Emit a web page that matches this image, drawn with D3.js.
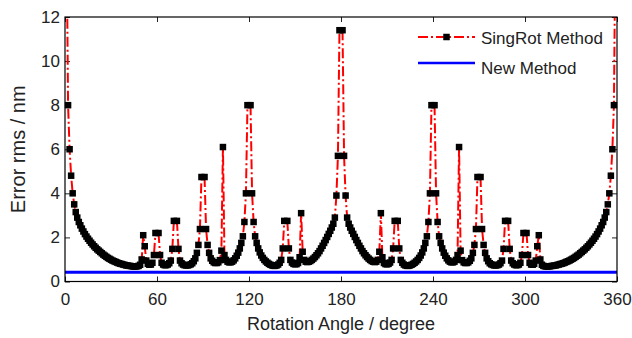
<!DOCTYPE html>
<html>
<head>
	<meta charset="utf-8">
	<title>SingRot vs New Method</title>
	<script src="https://d3js.org/d3.v7.min.js"></script>
	<style>
		body { margin: 0; background: #fff; }
		svg { display: block; }
		text { font-family: "Liberation Sans", Arial, sans-serif; fill: #222; }
		.tick text { font-size: 17px; }
		.tick line { stroke: #222; }
		text.label { font-size: 18px; }
		text.ylabel { font-size: 20px; }
		text.legend { font-size: 17px; }
	</style>
</head>
<body>
	<svg width="632" height="338"></svg>
<script>
	// sample angles, one per degree
	const angles = d3.range(0, 361, 1);

	// SingRot Method error (nm); null where the method is singular
	const singRot = [
		null, 16, 8.0, 6.0, 4.8, 4.0, 3.5, 3.15, 2.9, 2.7,
		2.55, 2.4, 2.27, 2.15, 2.04, 1.94, 1.85, 1.76, 1.68, 1.6,
		1.53, 1.46, 1.4, 1.34, 1.28, 1.22, 1.17, 1.12, 1.07, 1.03,
		0.99, 0.95, 0.92, 0.89, 0.86, 0.83, 0.81, 0.79, 0.77, 0.75,
		0.73, 0.72, 0.71, 0.7, 0.69, 0.68, 0.68, 0.69, 0.71, 0.76,
		1.0, 2.1, 1.6, 0.95, 0.8, 0.76, 0.77, 0.85, 1.2, 2.2,
		null, 2.2, 1.2, 0.85, 0.77, 0.74, 0.74, 0.77, 0.83, 0.95,
		1.48, 2.75, null, 2.75, 1.48, 0.95, 0.83, 0.77, 0.74, 0.73,
		0.73, 0.75, 0.78, 0.83, 0.92, 1.05, 1.3, 1.66, 2.38, 4.74,
		null, 4.74, 2.38, 1.66, 1.3, 1.05, 0.94, 0.87, 0.84, 0.84,
		0.87, 0.97, 1.4, 6.1, 1.2, 0.98, 0.9, 0.87, 0.87, 0.9,
		0.96, 1.05, 1.17, 1.31, 1.5, 1.75, 2.05, 2.7, 4.0, 8.0,
		null, 8.0, 4.0, 2.7, 2.05, 1.75, 1.5, 1.32, 1.18, 1.07,
		0.98, 0.91, 0.85, 0.8, 0.76, 0.73, 0.71, 0.71, 0.73, 0.77,
		0.85, 0.98, 1.5, 2.75, null, 2.75, 1.5, 0.98, 0.86, 0.8,
		0.78, 0.79, 0.84, 1.1, 3.1, 1.35, 0.98, 0.9, 0.88, 0.9,
		0.93, 0.98, 1.04, 1.11, 1.19, 1.28, 1.38, 1.5, 1.62, 1.75,
		1.88, 2.02, 2.16, 2.3, 2.45, 2.62, 2.9, 3.9, 5.7, 11.4,
		null,
		11.4, 5.7, 3.9, 2.9, 2.62, 2.45, 2.3, 2.16, 2.02, 1.88,
		1.75, 1.62, 1.5, 1.38, 1.28, 1.19, 1.11, 1.04, 0.98, 0.93,
		0.9, 0.88, 0.9, 0.98, 1.35, 3.1, 1.1, 0.84, 0.79, 0.78,
		0.8, 0.86, 0.98, 1.5, 2.75, null, 2.75, 1.5, 0.98, 0.85,
		0.77, 0.73, 0.71, 0.71, 0.73, 0.76, 0.8, 0.85, 0.91, 0.98,
		1.07, 1.18, 1.32, 1.5, 1.75, 2.05, 2.7, 4.0, 8.0, null,
		8.0, 4.0, 2.7, 2.05, 1.75, 1.5, 1.31, 1.17, 1.05, 0.96,
		0.9, 0.87, 0.87, 0.9, 0.98, 1.2, 6.1, 1.4, 0.97, 0.87,
		0.84, 0.84, 0.87, 0.94, 1.05, 1.3, 1.66, 2.38, 4.74, null,
		4.74, 2.38, 1.66, 1.3, 1.05, 0.92, 0.83, 0.78, 0.75, 0.73,
		0.73, 0.74, 0.77, 0.83, 0.95, 1.48, 2.75, null, 2.75, 1.48,
		0.95, 0.83, 0.77, 0.74, 0.74, 0.77, 0.85, 1.2, 2.2, null,
		2.2, 1.2, 0.85, 0.77, 0.76, 0.8, 0.95, 1.6, 2.1, 1.0,
		0.76, 0.71, 0.69, 0.68, 0.68, 0.69, 0.7, 0.71, 0.72, 0.73,
		0.75, 0.77, 0.79, 0.81, 0.83, 0.86, 0.89, 0.92, 0.95, 0.99,
		1.03, 1.07, 1.12, 1.17, 1.22, 1.28, 1.34, 1.4, 1.46, 1.53,
		1.6, 1.68, 1.76, 1.85, 1.94, 2.04, 2.15, 2.27, 2.4, 2.55,
		2.7, 2.9, 3.15, 3.5, 4.0, 4.8, 6.0, 8.0, 16, null
	];

	// New Method error (nm)
	const newAngles = [0, 360];
	const newMethod = [0.42, 0.42];

	const xTicks = [0, 60, 120, 180, 240, 300, 360];
	const yTicks = [0, 2, 4, 6, 8, 10, 12];

	const svg = d3.select('svg');
	const plotL = 65, plotR = 617, plotT = 17, plotB = 281.5;

	const xScale = d3.scaleLinear().domain([0, 360]).range([plotL, plotR]);
	const yScale = d3.scaleLinear().domain([0, 12]).range([plotB, plotT]);

	svg.append('defs').append('clipPath')
		.attr('id', 'plot')
		.append('rect')
		.attr('x', plotL).attr('y', plotT)
		.attr('width', plotR - plotL).attr('height', plotB - plotT);

	// axes, ticks pointing inwards
	svg.append('g')
		.attr('transform', `translate(0, ${plotB})`)
		.call(d3.axisBottom(xScale).tickValues(xTicks).tickSizeInner(-5).tickSizeOuter(0).tickPadding(11))
		.call(g => g.select('.domain').remove());
	svg.append('g')
		.attr('transform', `translate(0, ${plotT})`)
		.call(d3.axisTop(xScale).tickValues(xTicks).tickSizeInner(-5).tickSizeOuter(0).tickFormat(''))
		.call(g => g.select('.domain').remove());
	svg.append('g')
		.attr('transform', `translate(${plotL}, 0)`)
		.call(d3.axisLeft(yScale).tickValues(yTicks).tickSizeInner(-5).tickSizeOuter(0).tickPadding(5))
		.call(g => g.select('.domain').remove());
	svg.append('g')
		.attr('transform', `translate(${plotR}, 0)`)
		.call(d3.axisRight(yScale).tickValues(yTicks).tickSizeInner(-5).tickSizeOuter(0).tickFormat(''))
		.call(g => g.select('.domain').remove());

	svg.selectAll('g').attr('font-family', null).attr('font-size', null);

	const points = angles.map((a, i) => ({ a: a, v: singRot[i] }));

	const line = d3.line()
		.defined(d => d.v !== null)
		.x(d => xScale(d.a))
		.y(d => yScale(d.v));

	svg.append('path')
		.datum(points)
		.attr('clip-path', 'url(#plot)')
		.attr('fill', 'none')
		.attr('stroke', '#ff0000')
		.attr('stroke-width', 2)
		.attr('stroke-dasharray', '10,3,2,3')
		.attr('d', line);

	const ms = 6.5;
	svg.append('g')
		.selectAll('rect')
		.data(points.filter(d => d.v !== null && d.v <= 12))
		.enter()
		.append('rect')
		.attr('x', d => xScale(d.a) - ms / 2)
		.attr('y', d => yScale(d.v) - ms / 2)
		.attr('width', ms)
		.attr('height', ms)
		.attr('fill', '#000');

	svg.append('path')
		.datum(newAngles.map((a, i) => ({ a: a, v: newMethod[i] })))
		.attr('fill', 'none')
		.attr('stroke', '#0000ff')
		.attr('stroke-width', 3)
		.attr('d', line);

	// frame
	svg.append('rect')
		.attr('x', plotL).attr('y', plotT)
		.attr('width', plotR - plotL).attr('height', plotB - plotT)
		.attr('fill', 'none')
		.attr('stroke', '#000')
		.attr('stroke-width', 1.2);

	// legend
	svg.append('line')
		.attr('x1', 418).attr('x2', 475).attr('y1', 37).attr('y2', 37)
		.attr('stroke', '#ff0000').attr('stroke-width', 2)
		.attr('stroke-dasharray', '10,3,2,3');
	svg.append('rect')
		.attr('x', 446.5 - ms / 2).attr('y', 37 - ms / 2)
		.attr('width', ms).attr('height', ms)
		.attr('fill', '#000');
	svg.append('text')
		.attr('class', 'legend')
		.attr('x', 481).attr('y', 44)
		.text('SingRot Method');
	svg.append('line')
		.attr('x1', 418).attr('x2', 475).attr('y1', 63).attr('y2', 63)
		.attr('stroke', '#0000ff').attr('stroke-width', 2.5);
	svg.append('text')
		.attr('class', 'legend')
		.attr('x', 481).attr('y', 74)
		.text('New Method');

	// axis labels
	svg.append('text')
		.attr('class', 'label')
		.attr('x', (plotL + plotR) / 2)
		.attr('y', 330)
		.attr('text-anchor', 'middle')
		.text('Rotation Angle / degree');
	svg.append('text')
		.attr('class', 'ylabel')
		.attr('transform', `translate(25, ${(plotT + plotB) / 2}) rotate(-90)`)
		.attr('text-anchor', 'middle')
		.text('Error rms / nm');
</script>
</body>
</html>
